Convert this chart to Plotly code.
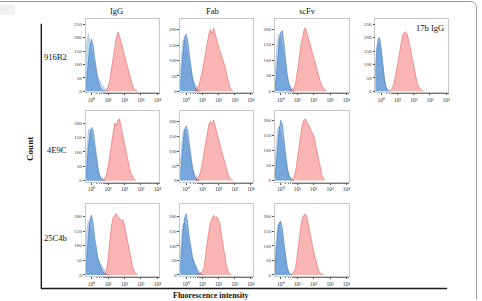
import plotly.graph_objects as go

W, H = 482, 301

# ---------------- data ----------------
# bin centres, log10(fluorescence intensity)
BIN_EXPONENTS = [-0.4, -0.3, -0.2, -0.1, 0.0, 0.1, 0.2, 0.3, 0.4, 0.5, 0.6, 0.7,
                 0.8, 0.9, 1.0, 1.1, 1.2, 1.3, 1.4, 1.5, 1.6, 1.7, 1.8, 1.9,
                 2.0, 2.1, 2.2, 2.3, 2.4, 2.5, 2.6, 2.7, 2.8, 2.9]

COLUMN_TITLES = ["IgG", "Fab", "scFv"]
ROW_TITLES = ["916B2", "4E9C", "25C4b"]
EXTRA_TITLE = "17b IgG"
X_TICK_EXP = [0, 1, 2, 3, 4]
X_TICK_TEXT = ["10⁰", "10¹", "10²", "10³", "10⁴"]
Y_TICKS_TALL = [0, 50, 100, 150, 200, 250]
Y_TICKS_SHORT = [0, 50, 100, 150, 200]

# counts; first value sits at BIN_EXPONENTS[start index]
# ---- 916B2 ----
b916_igg_light = [60, 180, 215, 185, 150, 115, 85, 62, 50, 42, 30, 18, 9, 4, 1, 0]
b916_igg_dark = [5, 40, 110, 170, 195, 170, 120, 75, 40, 18, 7, 2, 0]
b916_igg_red = [0, 5, 15, 40, 80, 125, 170, 200, 222, 205, 185, 160, 130, 110, 88, 65, 42, 20, 7, 2, 0]

b916_fab_light = [40, 120, 165, 170, 150, 125, 95, 65, 45, 30, 18, 8, 3, 0]
b916_fab_dark = [10, 50, 120, 175, 185, 165, 120, 75, 40, 18, 7, 2, 0]
b916_fab_red = [0, 5, 12, 20, 40, 65, 95, 130, 160, 185, 200, 185, 205, 185, 160, 145, 130, 115, 100, 80, 55, 30, 12, 3, 0]

b916_scfv_light = [30, 110, 170, 185, 170, 140, 105, 70, 45, 28, 15, 6, 2, 0]
b916_scfv_dark = [5, 30, 90, 160, 190, 195, 150, 95, 50, 20, 7, 2, 0]
b916_scfv_red = [0, 3, 6, 10, 25, 55, 95, 140, 175, 195, 205, 185, 170, 150, 130, 110, 90, 70, 50, 32, 18, 8, 3, 0]

b17_igg_light = [50, 130, 175, 180, 140, 90, 40, 15, 5, 1, 0]
b17_igg_dark = [60, 150, 195, 200, 160, 100, 45, 15, 4, 0]
b17_igg_red = [0, 5, 15, 35, 65, 100, 140, 180, 205, 218, 222, 212, 190, 160, 125, 90, 60, 35, 18, 8, 3, 0]

# ---- 4E9C ----
e4_igg_light = [30, 120, 175, 180, 160, 130, 95, 60, 35, 20, 10, 4, 1, 0]
e4_igg_dark = [5, 40, 110, 165, 185, 175, 130, 80, 40, 15, 5, 1, 0]
e4_igg_red = [0, 3, 8, 20, 45, 85, 130, 170, 200, 190, 210, 215, 185, 160, 125, 95, 70, 45, 25, 12, 4, 0]

e4_fab_light = [35, 115, 165, 175, 155, 125, 95, 65, 42, 25, 14, 6, 2, 0]
e4_fab_dark = [8, 45, 115, 170, 185, 170, 125, 80, 42, 18, 7, 2, 0]
e4_fab_red = [0, 4, 9, 16, 32, 60, 95, 135, 165, 190, 200, 190, 205, 180, 160, 140, 120, 100, 80, 60, 38, 20, 8, 2, 0]

e4_scfv_light = [25, 110, 170, 180, 160, 130, 95, 60, 35, 18, 8, 3, 0]
e4_scfv_dark = [5, 35, 100, 170, 200, 185, 135, 85, 42, 15, 5, 1, 0]
e4_scfv_red = [0, 4, 10, 30, 70, 115, 155, 185, 200, 205, 190, 185, 170, 160, 150, 125, 95, 65, 38, 18, 6, 0]

# ---- 25C4b ----
c25_igg_light = [40, 150, 185, 175, 150, 120, 90, 70, 55, 45, 32, 20, 10, 4, 1, 0]
c25_igg_dark = [10, 50, 130, 190, 205, 175, 125, 85, 55, 35, 20, 10, 4, 1, 0]
c25_igg_red = [0, 4, 15, 50, 110, 165, 195, 205, 210, 200, 195, 185, 190, 170, 140, 110, 80, 50, 28, 12, 4, 0]

c25_fab_light = [40, 130, 175, 180, 160, 130, 100, 75, 58, 48, 35, 22, 12, 5, 1, 0]
c25_fab_dark = [10, 60, 140, 195, 210, 180, 130, 90, 60, 40, 25, 12, 5, 1, 0]
c25_fab_red = [0, 4, 8, 12, 25, 60, 110, 150, 180, 195, 205, 195, 200, 190, 170, 130, 90, 55, 28, 10, 3, 0]

c25_scfv_light = [30, 120, 170, 175, 155, 120, 80, 45, 20, 8, 2, 0]
c25_scfv_dark = [10, 60, 140, 180, 185, 160, 110, 60, 25, 8, 2, 0]
c25_scfv_red = [0, 4, 10, 25, 60, 110, 160, 195, 205, 210, 195, 170, 140, 110, 80, 55, 32, 15, 6, 2, 0]

# start indices into BIN_EXPONENTS (light, dark, red)
START_916 = [(0, 0, 12), (0, 0, 9), (0, 0, 9), (0, 0, 9)]
START_4E9 = [(0, 0, 10), (0, 0, 9), (0, 0, 10)]
START_25C = [(0, 0, 11), (0, 0, 11), (0, 0, 10)]

# ---------------- layout geometry (pixels) ----------------
COL_PX = [(86, 160), (181, 254), (276, 350), (377, 450)]
ROW_PX = [(19, 93), (112, 183), (205, 278)]
Y_TOP = [[270, 235, 233, 270], [241, 235, 230], [244, 245, 245]]
X_RANGE = [-0.36, 4.12]

LIGHT_FILL, LIGHT_LINE = "rgba(125,178,228,0.5)", "rgba(175,185,198,0.95)"
DARK_FILL, DARK_LINE = "rgba(70,135,205,0.6)", "rgba(55,115,190,0.9)"
RED_FILL, RED_LINE = "rgba(243,105,105,0.5)", "rgba(228,90,90,0.9)"
SERIF = "Liberation Serif"


def px_x(v):
    return v / W


def px_y(v):
    return 1 - v / H


panels = [
    (0, 0, b916_igg_light, b916_igg_dark, b916_igg_red, START_916[0]),
    (0, 1, b916_fab_light, b916_fab_dark, b916_fab_red, START_916[1]),
    (0, 2, b916_scfv_light, b916_scfv_dark, b916_scfv_red, START_916[2]),
    (0, 3, b17_igg_light, b17_igg_dark, b17_igg_red, START_916[3]),
    (1, 0, e4_igg_light, e4_igg_dark, e4_igg_red, START_4E9[0]),
    (1, 1, e4_fab_light, e4_fab_dark, e4_fab_red, START_4E9[1]),
    (1, 2, e4_scfv_light, e4_scfv_dark, e4_scfv_red, START_4E9[2]),
    (2, 0, c25_igg_light, c25_igg_dark, c25_igg_red, START_25C[0]),
    (2, 1, c25_fab_light, c25_fab_dark, c25_fab_red, START_25C[1]),
    (2, 2, c25_scfv_light, c25_scfv_dark, c25_scfv_red, START_25C[2]),
]

fig = go.Figure()
layout = {}


def xs(start, n):
    return [10 ** e for e in BIN_EXPONENTS[start:start + n]]


for k, (r, c, light, dark, red, st) in enumerate(panels):
    idx = "" if k == 0 else str(k + 1)
    xa, ya = "x" + idx, "y" + idx
    for vals, s, fill, line in [(light, st[0], LIGHT_FILL, LIGHT_LINE),
                                (dark, st[1], DARK_FILL, DARK_LINE),
                                (red, st[2], RED_FILL, RED_LINE)]:
        fig.add_trace(go.Scatter(
            x=xs(s, len(vals)), y=vals, xaxis=xa, yaxis=ya,
            mode="lines", fill="tozeroy", fillcolor=fill,
            line=dict(color=line, width=0.6), showlegend=False,
            hoverinfo="skip"))
    x0, x1 = COL_PX[c]
    y0, y1 = ROW_PX[r]
    ymax = Y_TOP[r][c]
    yt = Y_TICKS_TALL if ymax >= 255 else Y_TICKS_SHORT
    layout["xaxis" + idx] = dict(
        domain=[px_x(x0), px_x(x1)], anchor=ya, type="log", range=X_RANGE,
        showgrid=False, zeroline=False, showline=True, linecolor="#c8c8c8",
        linewidth=0.7, mirror=True, ticks="outside", ticklen=2, tickwidth=0.6,
        tickcolor="#555", tickvals=[10 ** e for e in X_TICK_EXP],
        ticktext=X_TICK_TEXT,
        tickfont=dict(family=SERIF, size=5.5, color="#333"),
        minor=dict(ticks="outside", ticklen=1.2, tickwidth=0.5, tickcolor="#777",
                   showgrid=False),
        fixedrange=True)
    layout["yaxis" + idx] = dict(
        domain=[px_y(y1), px_y(y0)], anchor=xa, range=[-4, ymax],
        showgrid=False, zeroline=False, showline=True, linecolor="#c8c8c8",
        linewidth=0.7, mirror=True, ticks="outside", ticklen=2, tickwidth=0.6,
        tickcolor="#555", tickvals=yt,
        tickfont=dict(family=SERIF, size=5, color="#333"), fixedrange=True)

fig.update_layout(**layout)

annotations = []
col_centres = [117, 213, 309]
for t, cx in zip(COLUMN_TITLES, col_centres):
    annotations.append(dict(text=t, x=px_x(cx), y=px_y(11), xref="paper", yref="paper",
                            showarrow=False, font=dict(family=SERIF, size=8.5, color="#111"),
                            xanchor="center", yanchor="middle"))
annotations.append(dict(text=EXTRA_TITLE, x=px_x(432), y=px_y(28), xref="paper", yref="paper",
                        showarrow=False, font=dict(family=SERIF, size=8.5, color="#111"),
                        xanchor="center", yanchor="middle"))
row_centres = [57, 151, 240]
for t, cy in zip(ROW_TITLES, row_centres):
    annotations.append(dict(text=t, x=px_x(69), y=px_y(cy), xref="paper", yref="paper",
                            showarrow=False, font=dict(family=SERIF, size=8.5, color="#111"),
                            xanchor="right", yanchor="middle"))
annotations.append(dict(text="<b>Count</b>", x=px_x(30), y=px_y(150), xref="paper", yref="paper",
                        showarrow=False, textangle=-90,
                        font=dict(family=SERIF, size=9, color="#111"),
                        xanchor="center", yanchor="middle"))
annotations.append(dict(text="<b>Fluorescence intensity</b>", x=px_x(212), y=px_y(297.5),
                        xref="paper", yref="paper", showarrow=False,
                        font=dict(family=SERIF, size=8, color="#111"),
                        xanchor="center", yanchor="middle"))

shapes = [
    # black L axis
    dict(type="line", xref="paper", yref="paper", x0=px_x(41.5), x1=px_x(41.5),
         y0=px_y(24), y1=px_y(290.5), line=dict(color="#1a1a1a", width=1.4)),
    dict(type="line", xref="paper", yref="paper", x0=px_x(41), x1=px_x(449),
         y0=px_y(290.5), y1=px_y(290.5), line=dict(color="#1a1a1a", width=1.4)),
    # outer rounded frame
    dict(type="path", xref="paper", yref="paper",
         path="M %f,%f L %f,%f Q %f,%f %f,%f L %f,%f" % (
             px_x(0), px_y(1.5), px_x(472), px_y(1.5), px_x(478.5), px_y(1.5),
             px_x(478.5), px_y(8), px_x(478.5), px_y(301)),
         line=dict(color="#9a9a9a", width=1)),
    dict(type="rect", xref="paper", yref="paper", x0=0, x1=px_x(15), y0=px_y(15), y1=px_y(5),
         fillcolor="#f0f0f0", line=dict(width=0), layer="below"),
]

fig.update_layout(
    width=W, height=H, margin=dict(l=0, r=0, t=0, b=0),
    paper_bgcolor="white", plot_bgcolor="white",
    annotations=annotations, shapes=shapes, showlegend=False)

fig.write_html("out.html")
